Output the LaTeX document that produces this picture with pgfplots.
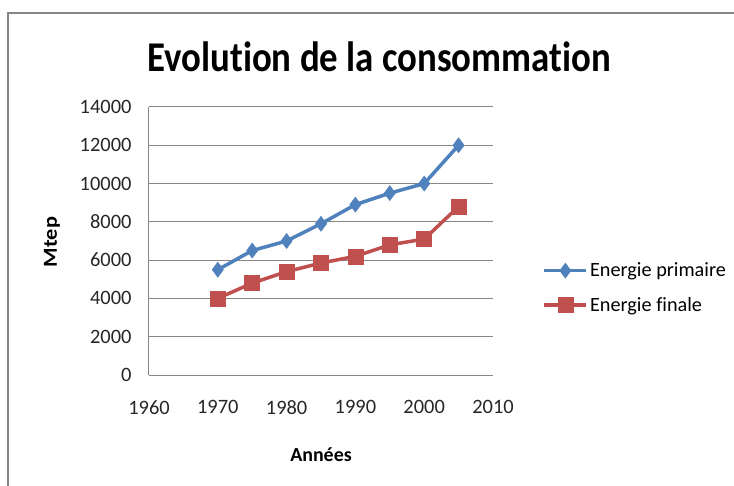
\documentclass[border=0pt]{standalone}
\usepackage{pgfplots}
\pgfplotsset{compat=1.18}
\usepackage{fontspec}
\setmainfont[Ligatures=NoCommon]{Carlito}
\definecolor{serA}{HTML}{4F81BD}
\definecolor{serB}{HTML}{C0504D}
\definecolor{gridc}{HTML}{868686}
\begin{document}
\begin{tikzpicture}
\useasboundingbox (-149bp,-111bp) rectangle (585bp,375bp);
% chart frame
\draw[gridc, line width=1.5bp] (-141bp,-115bp) -- (-141bp,362bp) -- (590bp,362bp);
\begin{axis}[
    scale only axis,
    width=344bp,
    height=268bp,
    xmin=1960, xmax=2010,
    ymin=0, ymax=14000,
    xtick={1960,1970,...,2010},
    ytick={0,2000,...,14000},
    scaled ticks=false,
    /pgf/number format/1000 sep={},
    /pgf/number format/assume math mode=true,
    major tick length=0pt,
    tick label style={font=\fontsize{20.5}{22}\selectfont, text=black!85},
    yticklabel style={xshift=-14bp},
    xticklabel style={yshift=-22bp},
    axis x line*=bottom,
    axis y line*=left,
    axis line style={gridc, line width=1bp},
    ymajorgrids,
    grid style={gridc, line width=1bp},
    xlabel={\textbf{Années}},
    ylabel={\scalebox{1.12}[1]{\textbf{Mtep}}},
    label style={font=\fontsize{20}{22}\selectfont},
    xlabel style={at={(0.5,0)}, anchor=center, yshift=-80bp},
    every axis y label/.append style={at={(-97bp,133bp)}, anchor=center},
    title={\scalebox{1}[1.15]{\textbf{Evolution de la consommation}}},
    title style={font=\fontsize{37}{40}\selectfont, at={(0.669,1.165)}, anchor=center},
    legend style={draw=none, at={(1.135,0.325)}, anchor=west,
        font=\fontsize{20.3}{22}\selectfont, row sep=15bp,
        /tikz/every even column/.append style={column sep=1bp}},
    legend cell align=left,
    legend image code/.code={
        \draw[mark repeat=2,mark phase=2] plot coordinates {(0bp,0bp) (21bp,0bp) (42bp,0bp)};},
]
\addplot[serA, line width=3.5bp, mark=diamond*, mark size=7.5bp,
    mark options={fill=serA, line width=0.5bp}]
coordinates {
    (1970,5500) (1975,6500) (1980,7000) (1985,7900)
    (1990,8900) (1995,9500) (2000,10000) (2005,12000)
};
\addplot[serB, line width=3.5bp, mark=square*, mark size=7.5bp,
    mark options={fill=serB, line width=0.5bp}]
coordinates {
    (1970,4000) (1975,4800) (1980,5400) (1985,5850)
    (1990,6200) (1995,6800) (2000,7100) (2005,8800)
};
\legend{Energie primaire, Energie finale}
\end{axis}
\end{tikzpicture}
\end{document}
